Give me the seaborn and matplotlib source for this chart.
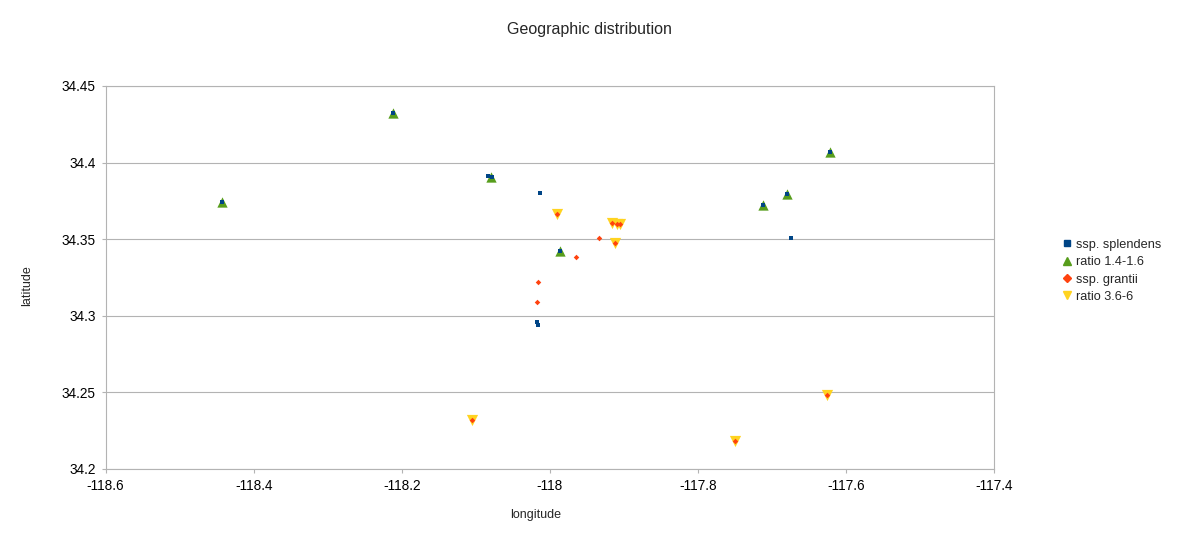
import pandas as pd
import matplotlib.pyplot as plt
import seaborn as sns
from matplotlib.lines import Line2D

# values
splendens_lon = [-118.443, -118.212, -118.083, -118.078, -118.013, -117.986,
                 -118.0167, -118.0154, -117.6216, -117.679, -117.7114, -117.6735]
splendens_lat = [34.3745, 34.4324, 34.391, 34.3906, 34.380, 34.3423,
                 34.2958, 34.2938, 34.4069, 34.3793, 34.3725, 34.3506]

ratio_low_lon = [-118.443, -118.212, -118.079, -117.986, -117.6216, -117.679, -117.7114]
ratio_low_lat = [34.3745, 34.4324, 34.3906, 34.3423, 34.4069, 34.3793, 34.3725]

grantii_lon = [-117.990, -117.9153, -117.909, -117.9055, -117.934, -117.912,
               -117.965, -118.0154, -118.0167, -118.1054, -117.749, -117.6249]
grantii_lat = [34.3666, 34.3604, 34.3598, 34.3600, 34.3506, 34.3477,
               34.3384, 34.3219, 34.3090, 34.2320, 34.2183, 34.2485]

ratio_high_lon = [-117.990, -117.9153, -117.909, -117.9055, -117.912,
                  -118.1054, -117.749, -117.6249]
ratio_high_lat = [34.3666, 34.3604, 34.3598, 34.3600, 34.3477,
                  34.2320, 34.2183, 34.2485]

labels = ['ssp. splendens', 'ratio 1.4-1.6', 'ssp. grantii', 'ratio 3.6-6']
colors = ['#004586', '#579d1c', '#ff420e', '#ffd320']

sns.set_theme(style='whitegrid', rc={
    'grid.color': '#b3b3b3', 'grid.linewidth': 0.8,
    'axes.edgecolor': '#b3b3b3', 'axes.linewidth': 0.8,
    'xtick.color': '#b3b3b3', 'ytick.color': '#b3b3b3',
    'xtick.labelcolor': 'black', 'ytick.labelcolor': 'black',
})
plt.rcParams['font.family'] = ['Liberation Sans', 'DejaVu Sans']

fig = plt.figure(figsize=(11.78, 5.44), dpi=100)
ax = fig.add_axes([0.0897, 0.1379, 0.7539, 0.7041])

# triangles go underneath, squares and diamonds on top
sns.scatterplot(x=ratio_high_lon, y=ratio_high_lat, ax=ax, marker='v', s=65,
                color=colors[3], linewidth=0, zorder=3)
sns.scatterplot(x=ratio_low_lon, y=ratio_low_lat, ax=ax, marker='^', s=55,
                color=colors[1], linewidth=0, zorder=3)
sns.scatterplot(x=grantii_lon, y=grantii_lat, ax=ax, marker='D', s=8,
                color=colors[2], linewidth=0, zorder=4)
sns.scatterplot(x=splendens_lon, y=splendens_lat, ax=ax, marker='s', s=10,
                color=colors[0], linewidth=0, zorder=4)

ax.set_xlim(-118.6, -117.4)
ax.set_ylim(34.2, 34.45)
ax.set_xticks([-118.6, -118.4, -118.2, -118, -117.8, -117.6, -117.4])
ax.set_xticklabels(['-118.6', '-118.4', '-118.2', '-118', '-117.8', '-117.6', '-117.4'])
ax.set_yticks([34.2, 34.25, 34.3, 34.35, 34.4, 34.45])
ax.set_yticklabels(['34.2', '34.25', '34.3', '34.35', '34.4', '34.45'])
ax.grid(axis='x', visible=False)
ax.tick_params(axis='both', length=3, width=0.8, labelsize=9.8, pad=4, bottom=True, left=True)
for sp in ax.spines.values():
    sp.set_visible(True)

ax.set_xlabel('longitude', fontsize=9)
ax.set_ylabel('latitude', fontsize=9)
ax.xaxis.set_label_coords(0.4846, -0.105)
ax.yaxis.set_label_coords(-0.082, 0.48)

fig.suptitle('Geographic distribution', fontsize=11.5, y=0.945, va='center')

handles = [
    Line2D([], [], linestyle='none', marker='s', markersize=5, color=colors[0]),
    Line2D([], [], linestyle='none', marker='^', markersize=6, color=colors[1]),
    Line2D([], [], linestyle='none', marker='D', markersize=4, color=colors[2]),
    Line2D([], [], linestyle='none', marker='v', markersize=6, color=colors[3]),
]
fig.legend(handles, labels, loc='center left', bbox_to_anchor=(0.898, 0.502),
           frameon=False, fontsize=9.2, handlelength=0.6, handletextpad=0.4,
           labelspacing=0.42, borderaxespad=0)

fig.savefig('out.png', dpi=100)
